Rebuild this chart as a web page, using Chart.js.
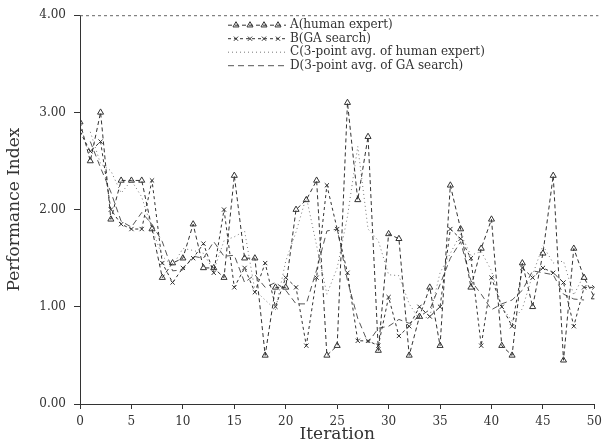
<!DOCTYPE html>
<html>
<head>
<meta charset="utf-8">
<script src="https://cdn.jsdelivr.net/npm/chart.js@4/dist/chart.umd.min.js"></script>
<style>
  html, body { margin: 0; padding: 0; background: #fff; }
  #wrap { width: 608px; height: 445px; position: relative; }
</style>
</head>
<body>
<div id="wrap"><canvas id="chart" width="608" height="445"></canvas></div>
<script>
const iterations = Array.from({length: 51}, (_, i) => i);

// A: human expert
const humanExpert = [2.9, 2.5, 3.0, 1.9, 2.3, 2.3, 2.3, 1.8, 1.3, 1.45, 1.5, 1.85, 1.4, 1.4, 1.3, 2.35, 1.5,
  1.5, 0.5, 1.2, 1.2, 2.0, 2.1, 2.3, 0.5, 0.6, 3.1, 2.1, 2.75, 0.55, 1.75, 1.7, 0.5, 0.9, 1.2, 0.6,
  2.25, 1.8, 1.2, 1.6, 1.9, 0.6, 0.5, 1.45, 1.0, 1.55, 2.35, 0.45, 1.6, 1.3, 1.1];
// B: GA search
const gaSearch = [2.8, 2.6, 2.7, 2.0, 1.85, 1.8, 1.8, 2.3, 1.45, 1.25, 1.4, 1.5, 1.65, 1.35, 2.0, 1.2, 1.4,
  1.15, 1.45, 1.0, 1.3, 1.2, 0.6, 1.3, 2.25, 1.8, 1.35, 0.65, 0.65, 0.6, 1.1, 0.7, 0.8, 1.0, 0.9, 1.0,
  1.8, 1.7, 1.5, 0.6, 1.3, 1.0, 0.8, 1.4, 1.3, 1.4, 1.35, 1.25, 0.8, 1.2, 1.2];
// C: 3-point avg of human expert
const humanAvg = [null, 2.8, 2.47, 2.4, 2.17, 2.3, 2.13, 1.8, 1.52, 1.42, 1.6, 1.58, 1.55, 1.37, 1.68, 1.72,
  1.78, 1.17, 1.07, 0.97, 1.47, 1.77, 2.13, 1.63, 1.13, 1.4, 1.93, 2.65, 1.8, 1.68, 1.33, 1.32, 1.03,
  0.87, 0.9, 1.35, 1.55, 1.75, 1.53, 1.57, 1.37, 1.0, 0.85, 0.98, 1.33, 1.63, 1.45, 1.47, 1.12, 1.33, null];
// D: 3-point avg of GA search
const gaAvg = [null, 2.7, 2.43, 2.18, 1.88, 1.82, 1.97, 1.85, 1.67, 1.37, 1.38, 1.52, 1.5, 1.67, 1.52, 1.53,
  1.25, 1.33, 1.2, 1.25, 1.17, 1.03, 1.03, 1.38, 1.78, 1.8, 1.27, 0.88, 0.63, 0.78, 0.8, 0.87, 0.83,
  0.9, 0.97, 1.23, 1.5, 1.67, 1.27, 1.13, 0.97, 1.03, 1.07, 1.17, 1.37, 1.35, 1.33, 1.13, 1.08, 1.07, null];

const seriesNames = ['A(human expert)', 'B(GA search)', 'C(3-point avg. of human expert)', 'D(3-point avg. of GA search)'];
const yTicks = [0, 1, 2, 3, 4];
const xTicks = [0, 5, 10, 15, 20, 25, 30, 35, 40, 45, 50];

const FONT = '"DejaVu Serif", "Liberation Serif", serif';
const INK = '#333';

// legend drawn by hand so it can sit top-right inside the plot like the original
const sideLegend = {
  id: 'sideLegend',
  afterDatasetsDraw(chart) {
    const ctx = chart.ctx;
    const left = chart.chartArea.left + 148;
    const top = chart.chartArea.top + 10;
    ctx.save();
    ctx.font = '12px ' + FONT;
    ctx.textBaseline = 'middle';
    chart.data.datasets.forEach((ds, i) => {
      const y = top + i * 13.5;
      ctx.strokeStyle = ds.borderColor;
      ctx.lineWidth = 1;
      ctx.setLineDash(ds.borderDash || []);
      ctx.beginPath();
      ctx.moveTo(left, y);
      ctx.lineTo(left + 58, y);
      ctx.stroke();
      ctx.setLineDash([]);
      if (ds.pointRadius) {
        ctx.fillStyle = 'rgba(0,0,0,0)';
        ctx.strokeStyle = INK;
        [left + 8, left + 22, left + 36, left + 50].forEach(px => {
          Chart.helpers.drawPoint(ctx, {
            pointStyle: ds.pointStyle, radius: ds.pointRadius, borderWidth: 1, rotation: 0
          }, px, y);
        });
      }
      ctx.fillStyle = INK;
      ctx.fillText(ds.label, left + 62, y);
    });
    ctx.restore();
  }
};

// dotted top frame
const topFrame = {
  id: 'topFrame',
  afterDraw(chart) {
    const {ctx, chartArea} = chart;
    ctx.save();
    ctx.strokeStyle = '#666';
    ctx.lineWidth = 1;
    ctx.setLineDash([3, 3]);
    ctx.beginPath();
    ctx.moveTo(chartArea.left, chartArea.top + 0.5);
    ctx.lineTo(chartArea.right + 4, chartArea.top + 0.5);
    ctx.stroke();
    ctx.restore();
  }
};

new Chart(document.getElementById('chart'), {
  type: 'line',
  data: {
    labels: iterations,
    datasets: [
      {
        label: seriesNames[0], data: humanExpert,
        borderColor: INK, backgroundColor: 'transparent', borderWidth: 1, borderDash: [4, 3],
        pointStyle: 'triangle', pointRadius: 3.5, pointBorderColor: INK, pointBackgroundColor: 'rgba(0,0,0,0)', pointBorderWidth: 1
      },
      {
        label: seriesNames[1], data: gaSearch,
        borderColor: INK, backgroundColor: 'transparent', borderWidth: 1, borderDash: [3, 3],
        pointStyle: 'crossRot', pointRadius: 3, pointBorderColor: INK, pointBorderWidth: 1
      },
      {
        label: seriesNames[2], data: humanAvg,
        borderColor: '#777', backgroundColor: 'transparent', borderWidth: 1, borderDash: [1, 3],
        pointRadius: 0
      },
      {
        label: seriesNames[3], data: gaAvg,
        borderColor: '#555', backgroundColor: 'transparent', borderWidth: 1, borderDash: [6, 4],
        pointRadius: 0
      }
    ]
  },
  options: {
    responsive: false,
    animation: false,
    maintainAspectRatio: false,
    layout: { padding: { top: 7, right: 7, left: 0, bottom: 0 } },
    plugins: {
      legend: { display: false },
      tooltip: { enabled: false }
    },
    scales: {
      x: {
        type: 'linear', min: 0, max: 50,
        afterBuildTicks: s => { s.ticks = xTicks.map(v => ({value: v})); },
        ticks: { font: { family: FONT, size: 12 }, color: INK, padding: 6, maxRotation: 0 },
        grid: { display: true, drawOnChartArea: false, tickLength: 5, color: INK },
        border: { color: INK, dash: [14, 4] },
        title: { display: true, text: 'Iteration', font: { family: FONT, size: 17 }, color: INK, padding: { top: 0, bottom: 0 } },
        afterFit: s => { s.height = 41; }
      },
      y: {
        min: 0, max: 4,
        afterBuildTicks: s => { s.ticks = yTicks.map(v => ({value: v})); },
        ticks: { font: { family: FONT, size: 12 }, color: INK, padding: 8, callback: v => v.toFixed(2) },
        grid: { display: true, drawOnChartArea: false, tickLength: 6, color: INK },
        border: { color: INK, dash: [4, 8] },
        title: { display: true, text: 'Performance Index', font: { family: FONT, size: 17 }, color: INK, padding: { bottom: 6 } },
        afterFit: s => { s.width = 80; }
      }
    }
  },
  plugins: [sideLegend, topFrame]
});
</script>
</body>
</html>
